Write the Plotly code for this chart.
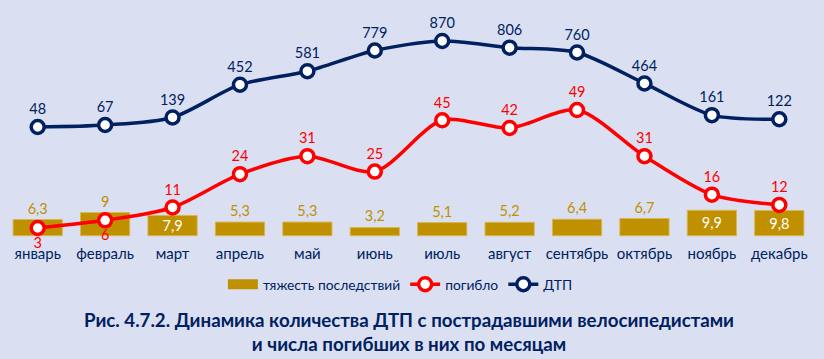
import plotly.graph_objects as go

months = ["январь", "февраль", "март", "апрель", "май", "июнь", "июль",
          "август", "сентябрь", "октябрь", "ноябрь", "декабрь"]
severity = [6.3, 9, 7.9, 5.3, 5.3, 3.2, 5.1, 5.2, 6.4, 6.7, 9.9, 9.8]
killed = [3, 6, 11, 24, 31, 25, 45, 42, 49, 31, 16, 12]
accidents = [48, 67, 139, 452, 581, 779, 870, 806, 760, 464, 161, 122]

NAVY = "#002060"
RED = "#FF0000"
GOLD = "#BF9000"
BG = "#DAE0F2"
FONT = "Lato, 'Open Sans', sans-serif"
FS = 14.5

def fmt(v):
    s = f"{v:g}"
    return s.replace(".", ",")

inside = {2, 10, 11}
sev_text = [fmt(v) for v in severity]
sev_pos = ["inside" if i in inside else "outside" for i in range(12)]

kill_pos = ["bottom center" if i < 2 else "top center" for i in range(12)]

fig = go.Figure()
fig.add_trace(go.Bar(
    x=months, y=severity, name="тяжесть последствий", showlegend=False,
    marker=dict(color=GOLD, line=dict(color="#D9B650", width=1)),
    text=sev_text, textposition=sev_pos,
    insidetextanchor="middle", constraintext="none",
    outsidetextfont=dict(color=GOLD, size=FS, family=FONT),
    insidetextfont=dict(color="white", size=FS, family=FONT),
    cliponaxis=False, yaxis="y",
))
# legend swatch for the bar series
fig.add_trace(go.Scatter(
    x=[None], y=[None], name="тяжесть последствий", mode="lines",
    line=dict(color=GOLD, width=11), yaxis="y",
))
fig.add_trace(go.Scatter(
    x=months, y=killed, name="погибло", mode="lines+markers+text",
    line=dict(color=RED, width=3.5, shape="spline", smoothing=0.8),
    marker=dict(size=13, color="white", line=dict(color=RED, width=3.5)),
    text=[str(v) for v in killed], textposition=kill_pos,
    textfont=dict(color=RED, size=FS, family=FONT),
    cliponaxis=False, yaxis="y",
))
fig.add_trace(go.Scatter(
    x=months, y=accidents, name="ДТП", mode="lines+markers+text",
    line=dict(color=NAVY, width=3.5, shape="spline", smoothing=0.8),
    marker=dict(size=13, color="white", line=dict(color=NAVY, width=3.5)),
    text=[str(v) for v in accidents], textposition="top center",
    textfont=dict(color=NAVY, size=FS, family=FONT),
    cliponaxis=False, yaxis="y2",
))

fig.update_layout(
    width=824, height=359,
    paper_bgcolor=BG, plot_bgcolor=BG,
    margin=dict(l=4, r=11, t=10, b=119),
    font=dict(family=FONT, color=NAVY, size=FS),
    bargap=0.27,
    showlegend=True,
    legend=dict(orientation="h", x=0.49, xanchor="center", y=-0.125, yanchor="top",
                font=dict(size=13.8, color=NAVY, family=FONT), bgcolor="rgba(0,0,0,0)",
                itemwidth=30, tracegroupgap=0),
    xaxis=dict(range=[-0.5, 11.5], showgrid=False, showline=False, ticks="",
               tickfont=dict(size=15, color=NAVY), ticklabelstandoff=3),
    yaxis=dict(range=[-1.68, 88], visible=False, showgrid=False, zeroline=True,
               zerolinecolor="#E8E4D8", zerolinewidth=1),
    yaxis2=dict(range=[-1032, 1166], overlaying="y", visible=False, showgrid=False,
                zeroline=False),
    annotations=[dict(
        text="<b>Рис. 4.7.2. Динамика количества ДТП с пострадавшими велосипедистами<br>и числа погибших в них по месяцам</b>",
        x=0.5, xref="paper", y=-0.40, yref="paper", yanchor="middle", showarrow=False,
        font=dict(size=18.7, color=NAVY, family=FONT), align="center",
    )],
)

fig.write_html(
    "out.html",
    config={"displayModeBar": False},
    post_script="document.body.style.margin='0';document.body.style.background='%s';" % BG,
)
